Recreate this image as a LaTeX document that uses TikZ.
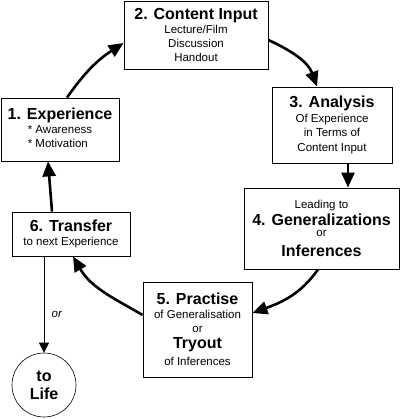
\documentclass[tikz,border=0pt]{standalone}
\usepackage{fontspec}
\setmainfont{Liberation Sans}
\usetikzlibrary{arrows.meta}
\newcommand\boxttl[1]{{\fontsize{16}{18}\selectfont\bfseries #1}}
\begin{document}
\begin{tikzpicture}[x=1pt,y=1pt,
  box/.style={draw, line width=0.8pt, inner sep=0pt, align=center, fill=white,
    font=\fontsize{11.5}{14}\selectfont},
  flow/.style={line width=2.6pt, -{Triangle[length=15pt,width=13pt]}},
  lifearrow/.style={line width=0.8pt, -{Triangle[length=10pt,width=10pt]}},
]
\fill[white] (0,0) rectangle (400,419);
\useasboundingbox (0,0) rectangle (400,419);

\node[box, minimum width=118pt, minimum height=63pt] (B1) at (60,289.5)
  {\boxttl{1. Experience}\\ \begin{tabular}[t]{@{}l@{}}* Awareness\\{}* Motivation\end{tabular}};
\node[box, minimum width=144pt, minimum height=68pt] (B2) at (196,384)
  {\boxttl{2. Content Input}\\[0.5pt] Lecture/Film\\ Discussion\\ Handout};
\node[box, minimum width=120pt, minimum height=76pt] (B3) at (332,294)
  {\boxttl{3. Analysis}\\[0.5pt] Of Experience\\[0.5pt] in Terms of\\[0.5pt] Content Input};
\node[box, minimum width=155pt, minimum height=81pt] (B4) at (321.5,190.5)
  {Leading to\\[2.5pt] \boxttl{4. Generalizations}\\[-2.5pt] or\\[6pt] \boxttl{Inferences}};
\node[box, minimum width=109pt, minimum height=95pt] (B5) at (197.5,89.5)
  {\boxttl{5. Practise}\\[-0.5pt] of Generalisation\\ or\\[2.5pt] \boxttl{Tryout}\\[2.5pt] of Inferences};
\node[box, minimum width=118pt, minimum height=44pt] (B6) at (71,185)
  {\boxttl{6. Transfer}\\[-0.5pt] to next Experience};
\node[draw, circle, line width=0.6pt, minimum size=64pt, inner sep=0pt, align=center,
  font=\fontsize{16}{18}\selectfont\bfseries] (Life) at (44,34) {to\\ Life};

\draw[flow] ([xshift=7pt]B1.north) to[out=55,in=213] ([yshift=-8pt]B2.west);
\draw[flow] ([yshift=-5pt]B2.east) to[out=-25,in=110] ([xshift=-15pt]B3.north);
\draw[flow] ([xshift=16pt]B3.south) -- ([xshift=26.5pt]B4.north);
\draw[flow] ([xshift=-3.5pt]B4.south) to[out=235,in=20] ([yshift=16.5pt]B5.east);
\draw[flow] ([yshift=14.5pt]B5.west) to[out=150,in=300] ([xshift=2pt]B6.south);
\draw[flow] ([xshift=-19pt]B6.north) -- ([xshift=-12pt]B1.south);
\draw[lifearrow] ([xshift=-27pt]B6.south) -- (Life.north)
  node[pos=0.6, right=4pt, font=\fontsize{11.5}{13}\selectfont\itshape] (orlabel) {or};
\end{tikzpicture}
\end{document}
